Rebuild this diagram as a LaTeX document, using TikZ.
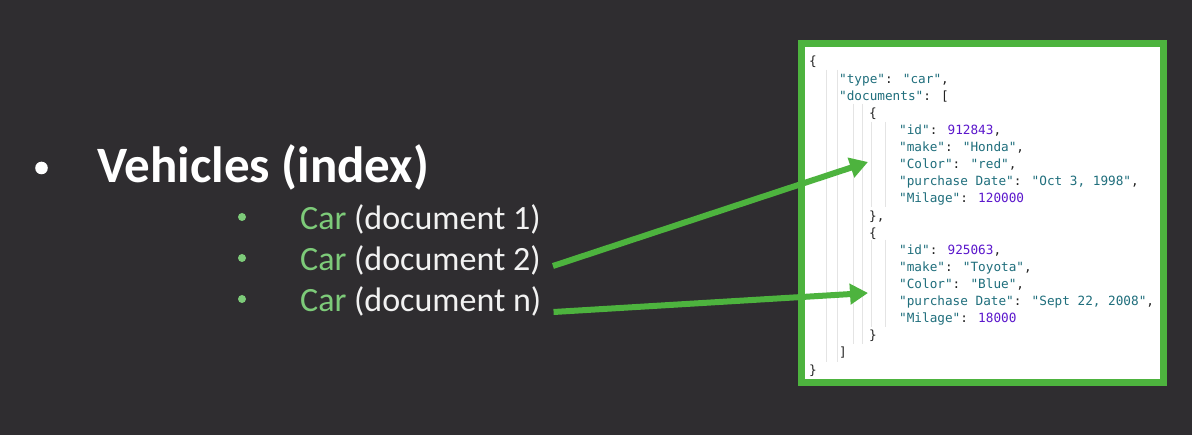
\documentclass[tikz,border=0pt]{standalone}
\usepackage{fontspec}
\setmainfont{Carlito}
\newfontfamily\jmono{DejaVu Sans Mono}
\usetikzlibrary{arrows.meta}
\definecolor{bg}{HTML}{2F2D30}
\definecolor{grn}{HTML}{4DB33E}
\definecolor{cargrn}{HTML}{7DCB79}
\definecolor{txt}{HTML}{F2F2F2}
\definecolor{jkey}{HTML}{1F6E7C}
\definecolor{jnum}{HTML}{5B17CC}
\definecolor{jpun}{HTML}{222222}
\definecolor{guide}{HTML}{E4E4E4}
\newcommand\jk[1]{\textcolor{jkey}{#1}}
\newcommand\jn[1]{\textcolor{jnum}{#1}}
\tikzset{
  jl/.style={anchor=base west, inner sep=0pt, text=jpun, font=\jmono\fontsize{12.7}{15}\selectfont},
  head/.style={anchor=base west, inner sep=0pt, text=white, font=\fontsize{51}{60}\selectfont\bfseries},
  item/.style={anchor=base west, inner sep=0pt, text=txt, font=\fontsize{34}{40}\selectfont},
  bigdot/.style={fill=white, draw=none},
  smalldot/.style={fill=cargrn, draw=none},
  jbox/.style={fill=white, draw=grn, line width=7pt},
  gline/.style={draw=guide, line width=0.6pt},
  arr/.style={draw=grn, line width=6pt, -{Triangle[length=18pt,width=20pt]}}
}
\begin{document}
\begin{tikzpicture}[x=1pt,y=-1pt]
\fill[bg] (0,0) rectangle (1192,435);
\useasboundingbox (0,0) rectangle (1192,435);

% left list
\fill[bigdot] (41.5,168) circle (6.3);
\node[head] (veh) at (97,183) {Vehicles (index)};
\fill[smalldot] (242,217) circle (4);
\fill[smalldot] (242,258) circle (4);
\fill[smalldot] (242,299) circle (4);
\node[item] (d1) at (300,230) {\textcolor{cargrn}{Car} (document 1)};
\node[item] (d2) at (300,271) {\textcolor{cargrn}{Car} (document 2)};
\node[item] (dn) at (300,312) {\textcolor{cargrn}{Car} (document n)};

% JSON box
\path[jbox] (801.5,43.5) rectangle (1163.5,382.5);
\draw[gline] (826,70) -- (826,362);
\draw[gline] (837,70) -- (837,362);
\draw[gline] (853,104) -- (853,344);
\draw[gline] (862,104) -- (862,344);
\draw[gline] (871,122) -- (871,207);
\draw[gline] (885,122) -- (885,207);
\draw[gline] (871,240) -- (871,327);
\draw[gline] (885,240) -- (885,327);

\node[jl] (j0)  at (809,66)    {\{};
\node[jl] (j1)  at (839,83.1)  {\jk{"type"}: \jk{"car"},};
\node[jl] (j2)  at (839,100.2) {\jk{"documents"}: [};
\node[jl] (j3)  at (869,117.4) {\{};
\node[jl] (j4)  at (899,134.5) {\jk{"id"}: \jn{912843},};
\node[jl] (j5)  at (899,151.6) {\jk{"make"}: \jk{"Honda"},};
\node[jl] (j6)  at (899,168.7) {\jk{"Color"}: \jk{"red"},};
\node[jl] (j7)  at (899,185.8) {\jk{"purchase Date"}: \jk{"Oct 3, 1998"},};
\node[jl] (j8)  at (899,203)   {\jk{"Milage"}: \jn{120000}};
\node[jl] (j9)  at (869,220.1) {\},};
\node[jl] (j10) at (869,237.2) {\{};
\node[jl] (j11) at (899,254.3) {\jk{"id"}: \jn{925063},};
\node[jl] (j12) at (899,271.4) {\jk{"make"}: \jk{"Toyota"},};
\node[jl] (j13) at (899,288.6) {\jk{"Color"}: \jk{"Blue"},};
\node[jl] (j14) at (899,305.7) {\jk{"purchase Date"}: \jk{"Sept 22, 2008"},};
\node[jl] (j15) at (899,322.8) {\jk{"Milage"}: \jn{18000}};
\node[jl] (j16) at (869,339.9) {\}};
\node[jl] (j17) at (839,357)   {]};
\node[jl] (j18) at (809,374.2) {\}};

% arrows
\coordinate (t1) at (868,162);
\coordinate (t2) at (868,293);
\draw[arr] ([xshift=12pt,yshift=5pt]d2.base east) -- (t1);
\draw[arr] ([xshift=12pt,yshift=0pt]dn.base east) -- (t2);
\end{tikzpicture}
\end{document}
